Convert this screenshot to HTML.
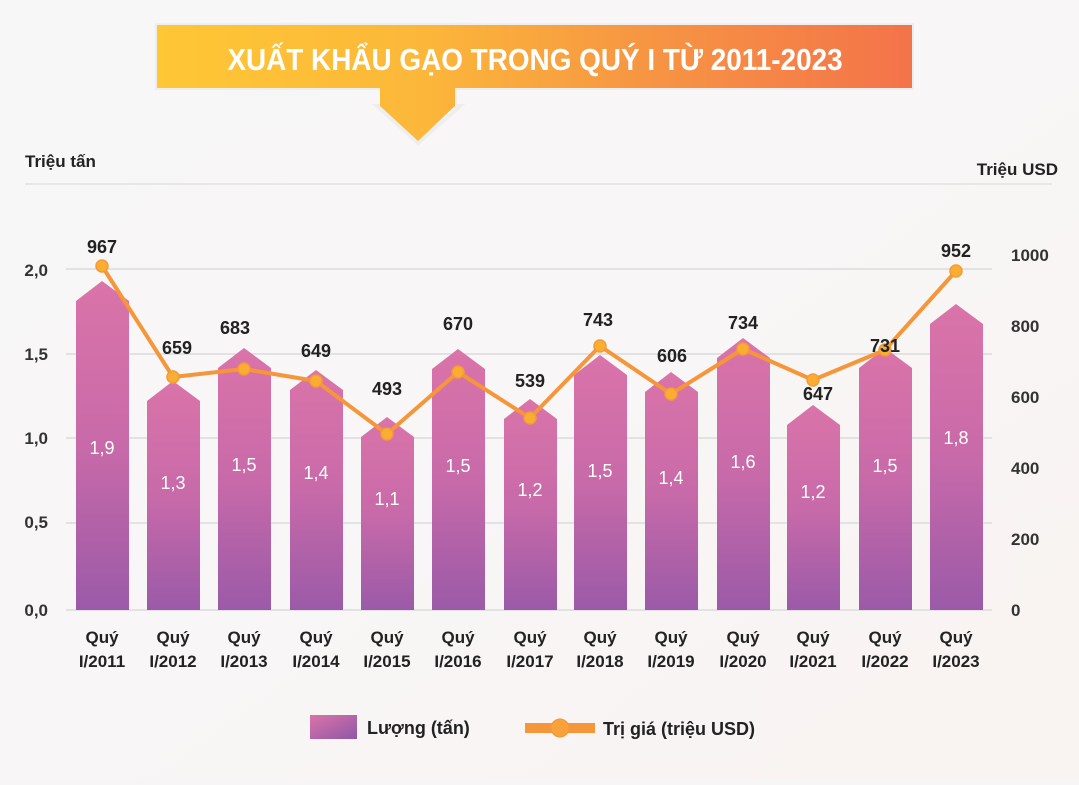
<!DOCTYPE html>
<html><head><meta charset="utf-8"><style>
body{margin:0;width:1079px;height:780px;overflow:hidden;background:#f7f5f5;font-family:"Liberation Sans",sans-serif}
</style></head><body>
<svg width="1079" height="780" viewBox="0 0 1079 780" xmlns="http://www.w3.org/2000/svg" font-family="Liberation Sans, sans-serif">
<defs>
<linearGradient id="bg" x1="0" y1="0" x2="1" y2="1"><stop offset="0" stop-color="#f7f7f7"/><stop offset="0.5" stop-color="#f8f6f6"/><stop offset="1" stop-color="#f9f3f1"/></linearGradient>
<linearGradient id="ban" x1="0" y1="0" x2="1" y2="0"><stop offset="0" stop-color="#fec735"/><stop offset="0.35" stop-color="#fcb73a"/><stop offset="0.65" stop-color="#f69543"/><stop offset="1" stop-color="#f4734a"/></linearGradient>
<linearGradient id="bar" x1="0" y1="0" x2="0" y2="1"><stop offset="0" stop-color="#da74a9"/><stop offset="0.5" stop-color="#c86aa9"/><stop offset="1" stop-color="#9b5aa8"/></linearGradient>
<linearGradient id="leg" x1="0" y1="0" x2="1" y2="1"><stop offset="0" stop-color="#da74a9"/><stop offset="1" stop-color="#8f57a6"/></linearGradient>
</defs>
<rect width="1079" height="780" fill="url(#bg)"/>
<path d="M157 25 H912 V88 H455 V106 H460 L418 143 L377 106 H382 V88 H157 Z" fill="#fff" stroke="#eee" stroke-width="4"/>
<path d="M157 25 H912 V88 H455 V106 L418 141 L380 106 V88 H157 Z" fill="url(#ban)"/>
<text x="535" y="70" text-anchor="middle" font-size="31" font-weight="bold" fill="#fff" transform="translate(535 0) scale(0.9 1) translate(-535 0)">XUẤT KHẨU GẠO TRONG QUÝ I TỪ 2011-2023</text>
<line x1="25" y1="184" x2="1052" y2="184" stroke="#e2e2e2" stroke-width="1.5"/>
<text x="25" y="167" font-size="17" font-weight="bold" fill="#222">Triệu tấn</text>
<text x="1058" y="175" font-size="17" font-weight="bold" fill="#222" text-anchor="end">Triệu USD</text>
<g stroke="#dcdcdc" stroke-width="1.5">
<line x1="66" y1="269" x2="992" y2="269"/><line x1="66" y1="354" x2="992" y2="354"/><line x1="66" y1="438" x2="992" y2="438"/><line x1="66" y1="523" x2="992" y2="523"/><line x1="66" y1="610" x2="992" y2="610"/>
</g>
<g font-size="17" font-weight="bold" fill="#333" text-anchor="end">
<text x="48" y="276">2,0</text><text x="48" y="360">1,5</text><text x="48" y="444">1,0</text><text x="48" y="528">0,5</text><text x="48" y="616">0,0</text>
</g>
<g font-size="17" font-weight="bold" fill="#333">
<text x="1011" y="261">1000</text><text x="1011" y="332">800</text><text x="1011" y="403">600</text><text x="1011" y="474">400</text><text x="1011" y="545">200</text><text x="1011" y="616">0</text>
</g>
<g fill="url(#bar)">
<path d="M76 301 L102 281 L129 301 V610 H76Z"/>
<path d="M147 401 L173 381 L200 401 V610 H147Z"/>
<path d="M218 368 L244 348 L271 368 V610 H218Z"/>
<path d="M290 390 L316 370 L343 390 V610 H290Z"/>
<path d="M361 437 L387 417 L414 437 V610 H361Z"/>
<path d="M432 369 L458 349 L485 369 V610 H432Z"/>
<path d="M504 419 L530 399 L557 419 V610 H504Z"/>
<path d="M574 375 L600 355 L627 375 V610 H574Z"/>
<path d="M645 392 L671 372 L698 392 V610 H645Z"/>
<path d="M717 358 L743 338 L770 358 V610 H717Z"/>
<path d="M787 425 L813 405 L840 425 V610 H787Z"/>
<path d="M859 368 L885 348 L912 368 V610 H859Z"/>
<path d="M930 324 L956 304 L983 324 V610 H930Z"/>
</g>
<g font-size="18" fill="#fff" text-anchor="middle">
<text x="102" y="454">1,9</text><text x="173" y="489">1,3</text><text x="244" y="471">1,5</text><text x="316" y="479">1,4</text><text x="387" y="505">1,1</text><text x="458" y="472">1,5</text><text x="530" y="496">1,2</text><text x="600" y="477">1,5</text><text x="671" y="484">1,4</text><text x="743" y="468">1,6</text><text x="813" y="498">1,2</text><text x="885" y="472">1,5</text><text x="956" y="444">1,8</text>
</g>
<polyline fill="none" stroke="#f5963a" stroke-width="4" stroke-linejoin="round" points="102,266 173,377 244,369 316,381 387,434 458,372 530,418 600,346 671,394 743,349 813,380 885,350 956,271"/>
<g fill="#f9ae33" stroke="#f59a36" stroke-width="1.5">
<circle cx="102" cy="266" r="6"/><circle cx="173" cy="377" r="6"/><circle cx="244" cy="369" r="6"/><circle cx="316" cy="381" r="6"/><circle cx="387" cy="434" r="6"/><circle cx="458" cy="372" r="6"/><circle cx="530" cy="418" r="6"/><circle cx="600" cy="346" r="6"/><circle cx="671" cy="394" r="6"/><circle cx="743" cy="349" r="6"/><circle cx="813" cy="380" r="6"/><circle cx="885" cy="350" r="6"/><circle cx="956" cy="271" r="6"/>
</g>
<g font-size="18" font-weight="bold" fill="#222" text-anchor="middle">
<text x="102" y="253">967</text><text x="177" y="354">659</text><text x="235" y="334">683</text><text x="316" y="357">649</text><text x="387" y="395">493</text><text x="458" y="330">670</text><text x="530" y="387">539</text><text x="598" y="326">743</text><text x="672" y="362">606</text><text x="743" y="329">734</text><text x="818" y="400">647</text><text x="885" y="352">731</text><text x="956" y="257">952</text>
</g>
<g font-size="17" font-weight="bold" fill="#222" text-anchor="middle">
<text x="102" y="643">Quý</text><text x="102" y="667">I/2011</text>
<text x="173" y="643">Quý</text><text x="173" y="667">I/2012</text>
<text x="244" y="643">Quý</text><text x="244" y="667">I/2013</text>
<text x="316" y="643">Quý</text><text x="316" y="667">I/2014</text>
<text x="387" y="643">Quý</text><text x="387" y="667">I/2015</text>
<text x="458" y="643">Quý</text><text x="458" y="667">I/2016</text>
<text x="530" y="643">Quý</text><text x="530" y="667">I/2017</text>
<text x="600" y="643">Quý</text><text x="600" y="667">I/2018</text>
<text x="671" y="643">Quý</text><text x="671" y="667">I/2019</text>
<text x="743" y="643">Quý</text><text x="743" y="667">I/2020</text>
<text x="813" y="643">Quý</text><text x="813" y="667">I/2021</text>
<text x="885" y="643">Quý</text><text x="885" y="667">I/2022</text>
<text x="956" y="643">Quý</text><text x="956" y="667">I/2023</text>
</g>
<rect x="310" y="715" width="47" height="24" fill="url(#leg)"/>
<text x="367" y="734" font-size="18" font-weight="bold" fill="#222">Lượng (tấn)</text>
<rect x="525" y="723" width="70" height="10" fill="#f5963a"/>
<circle cx="560" cy="728" r="9" fill="#f7a23a" stroke="#f5963a"/>
<text x="603" y="735" font-size="18" font-weight="bold" fill="#222">Trị giá (triệu USD)</text>
</svg>
</body></html>
